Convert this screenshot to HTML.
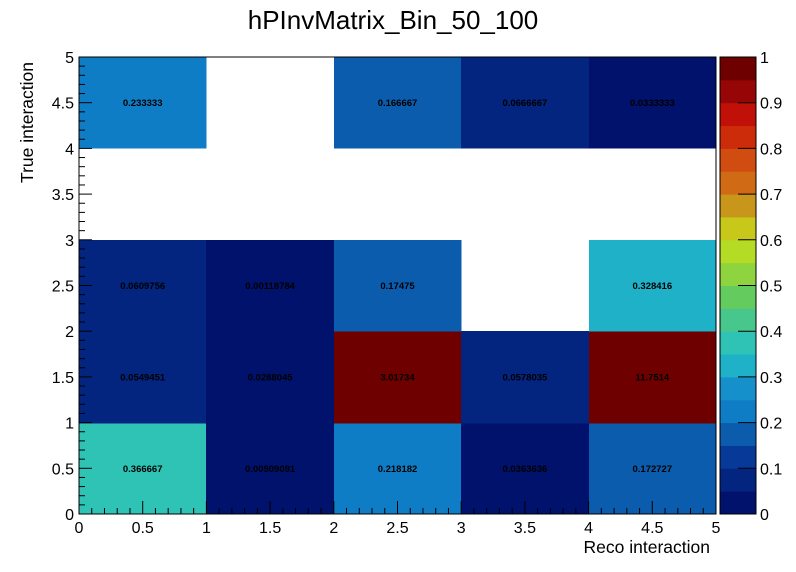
<!DOCTYPE html>
<html><head><meta charset="utf-8"><style>
body{margin:0;background:#fff;}
svg{display:block;font-family:"Liberation Sans",sans-serif;}
</style></head><body>
<svg id="c" width="796" height="572"></svg>
<script>
const xCats=[0,1,2,3,4];
const yCats=[0,1,2,3,4];
const row0=[0.366667,0.00909091,0.218182,0.0363636,0.172727];
const row1=[0.0549451,0.0288045,3.01734,0.0578035,11.7514];
const row2=[0.0609756,0.00118784,0.17475,null,0.328416];
const row3=[null,null,null,null,null];
const row4=[0.233333,null,0.166667,0.0666667,0.0333333];
const rows=[row0,row1,row2,row3,row4];
const labels0=["0.366667","0.00909091","0.218182","0.0363636","0.172727"];
const labels1=["0.0549451","0.0288045","3.01734","0.0578035","11.7514"];
const labels2=["0.0609756","0.00118784","0.17475","","0.328416"];
const labels3=["","","","",""];
const labels4=["0.233333","","0.166667","0.0666667","0.0333333"];
const labelRows=[labels0,labels1,labels2,labels3,labels4];
const tickLabels=["0","0.5","1","1.5","2","2.5","3","3.5","4","4.5","5"];
const zTicks=["0","0.1","0.2","0.3","0.4","0.5","0.6","0.7","0.8","0.9","1"];
const palette=["#01126c","#03247f","#073a98","#0c5cae","#0f7dc6","#1590cb","#1eb1c8","#2fc3b5","#47c78c","#64cc5e","#8ed43e","#b4dc24","#c8c81a","#c8961a","#d06a14","#d04c10","#cc2c0a","#c01008","#960606","#6e0000"];
const L=79,R=716,T=57,B=514;
const sx=v=>L+(v/5)*(R-L);
const sy=v=>B-(v/5)*(B-T);
const NS="http://www.w3.org/2000/svg";
const svg=document.getElementById('c');
function mk(t,a,p){const e=document.createElementNS(NS,t);for(const k in a)e.setAttribute(k,a[k]);(p||svg).appendChild(e);return e;}
function col(v){let i=Math.floor(v/0.05);if(i<0)i=0;if(i>19)i=19;return palette[i];}
const cells=mk('g',{'shape-rendering':'crispEdges'});


yCats.forEach((yc,j)=>{xCats.forEach((xc,i)=>{const v=rows[j][i];if(v===null)return;
 const x0=Math.round(sx(xc)),x1=Math.round(sx(xc+1)),y0=Math.round(sy(yc+1)),y1=Math.round(sy(yc));
 const r=mk('rect',{x:x0,y:y0,width:x1-x0+0.6,height:y1-y0+0.6,fill:col(v)},cells);
 
 
});});
yCats.forEach((yc,j)=>{xCats.forEach((xc,i)=>{const v=rows[j][i];if(v===null)return;
 const t=mk('text',{x:(sx(xc)+sx(xc+1))/2,y:(sy(yc)+sy(yc+1))/2+3.5,'text-anchor':'middle','font-size':'9.5','font-weight':'bold',fill:'#000'});
 t.textContent=labelRows[j][i];
 
 
});});
mk('rect',{x:L,y:T,width:R-L,height:B-T,fill:'none',stroke:'#000','stroke-width':1});
const ax=mk('g',{stroke:'#000','stroke-width':1});


for(let k=0;k<=50;k++){const v=k/10;const major=k%5===0;const len=major?13:6;
 mk('line',{x1:sx(v),x2:sx(v),y1:B,y2:B-len},ax);
 mk('line',{x1:L,x2:L+len,y1:sy(v),y2:sy(v)},ax);}
tickLabels.forEach((s,k)=>{const v=k*0.5;
 const a=mk('text',{x:sx(v),y:B+19,'text-anchor':'middle','font-size':'16'});a.textContent=s;
 
 const b=mk('text',{x:L-5,y:sy(v)+6,'text-anchor':'end','font-size':'16'});b.textContent=s;
 });
const cb=mk('g',{});


const CL=720,CR=756,bh=(B-T)/20;
palette.forEach((c,i)=>{mk('rect',{x:CL,y:B-(i+1)*bh,width:CR-CL,height:bh+0.5,fill:c},cb);});
mk('rect',{x:CL,y:T,width:CR-CL,height:B-T,fill:'none',stroke:'#000'},cb);
zTicks.forEach((s,k)=>{const y=B-k*(B-T)/10;
 mk('line',{x1:CR-18,x2:CR,y1:y,y2:y,stroke:'#000'},cb);
 const t=mk('text',{x:CR+4,y:y+6,'font-size':'16'},cb);t.textContent=s;
 });
const title=mk('text',{x:393,y:29,'text-anchor':'middle','font-size':'26'});title.textContent='hPInvMatrix_Bin_50_100';

const xt=mk('text',{x:710,y:553,'text-anchor':'end','font-size':'17.5'});xt.textContent='Reco interaction';

const yt=mk('text',{x:0,y:0,'text-anchor':'end','font-size':'17.5',transform:'translate(33,62) rotate(-90)'});yt.textContent='True interaction';

</script>
</body></html>
